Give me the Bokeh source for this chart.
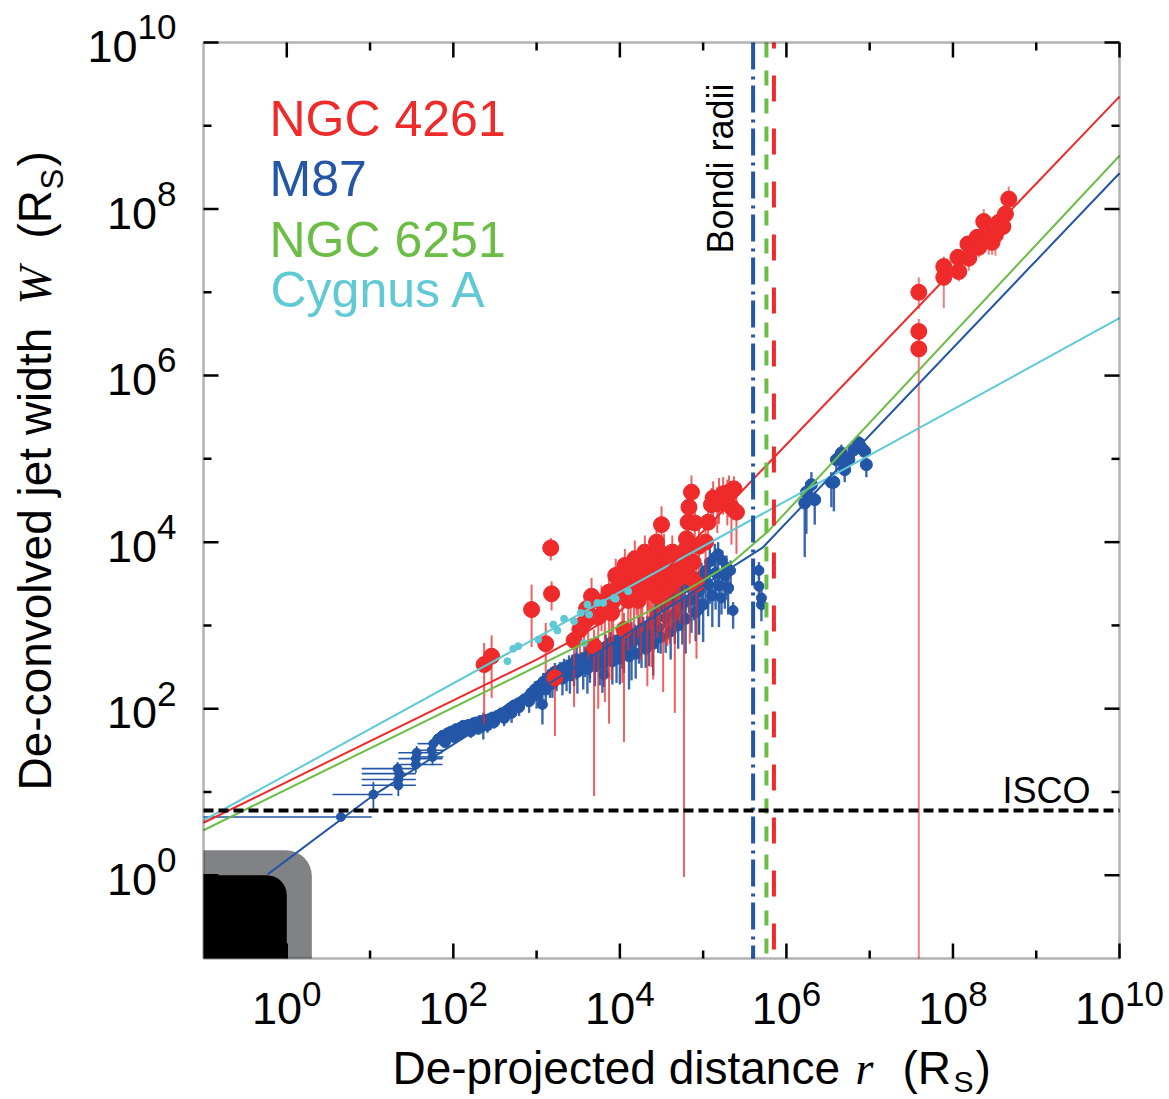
import numpy as np
from bokeh.plotting import figure
from bokeh.models import Label, BoxAnnotation
from bokeh.embed import file_html
from bokeh.resources import INLINE

RED = "#EE2A2A"
BLUE = "#2356A6"
GREEN = "#6CBD45"
CYAN = "#5FC9D6"
GRAY = "#808285"
SANS = "Liberation Sans"
SERIF = "Liberation Serif"

# ---------------- data (log10 of R_S units) ----------------
# M87: isolated inner points (with horizontal error bars)
m87_iso_logr = [0.65, 1.04, 1.34, 1.34, 1.35, 1.33, 1.55, 1.55, 1.56, 1.75, 1.74, 1.76]
m87_iso_logw = [0.70, 0.97, 1.08, 1.15, 1.22, 1.28, 1.33, 1.40, 1.47, 1.42, 1.50, 1.58]
m87_iso_xlo = [-1.00, 0.55, 0.90, 0.90, 0.90, 0.90, 1.34, 1.34, 1.34, 1.57, 1.57, 1.57]
m87_iso_xhi = [1.02, 1.27, 1.55, 1.55, 1.55, 1.55, 1.87, 1.87, 1.87, 1.88, 1.88, 1.88]
m87_iso_dn = [0.04, 0.21, 0.13, 0.10, 0.10, 0.08, 0.10, 0.10, 0.08, 0.10, 0.10, 0.08]
m87_iso_up = [0.04, 0.15, 0.08, 0.08, 0.08, 0.08, 0.08, 0.08, 0.08, 0.08, 0.08, 0.08]

# M87: dense band, upper part
m87_up_logr = [1.82, 1.87, 1.93, 1.97, 2.03, 2.09, 2.12, 2.18, 2.24, 2.27,
               2.33, 2.39, 2.43, 2.47, 2.53, 2.58, 2.64, 2.68, 2.72, 2.78,
               2.83, 2.89, 2.93, 2.98, 3.03, 3.08, 3.14, 3.18, 3.22, 3.28,
               3.33, 3.39, 3.43, 3.48, 3.53, 3.58, 3.64, 3.68, 3.73, 3.78,
               3.83, 3.89, 3.93, 3.98, 4.03, 4.08, 4.14, 4.18, 4.23, 4.28,
               4.33, 4.39, 4.43, 4.48, 4.53, 4.58, 4.64, 4.68, 4.73, 4.78,
               4.83, 4.89, 4.93, 4.98, 5.03, 5.08, 5.14, 5.18, 5.23, 5.28,
               5.33]
m87_up_logw = [1.64, 1.68, 1.71, 1.73, 1.76, 1.78, 1.80, 1.81, 1.83, 1.84,
               1.86, 1.87, 1.88, 1.90, 1.92, 1.95, 1.98, 2.01, 2.04, 2.07,
               2.10, 2.14, 2.19, 2.24, 2.28, 2.33, 2.38, 2.42, 2.45, 2.47,
               2.50, 2.52, 2.55, 2.60, 2.58, 2.62, 2.67, 2.69, 2.72, 2.70,
               2.75, 2.80, 2.79, 2.83, 2.86, 2.88, 2.90, 2.89, 2.94, 2.98,
               3.00, 3.06, 3.14, 3.22, 3.25, 3.28, 3.31, 3.38, 3.42, 3.45,
               3.50, 3.54, 3.52, 3.60, 3.66, 3.76, 3.82, 3.86, 3.78, 3.70,
               3.66]
m87_up_dn = [0.05, 0.06, 0.05, 0.07, 0.06, 0.05, 0.06, 0.07, 0.05, 0.06,
             0.06, 0.08, 0.07, 0.06, 0.08, 0.07, 0.09, 0.08, 0.10, 0.09,
             0.10, 0.12, 0.11, 0.14, 0.12, 0.15, 0.13, 0.16, 0.18, 0.14,
             0.20, 0.17, 0.22, 0.25, 0.18, 0.24, 0.30, 0.22, 0.28, 0.20,
             0.35, 0.26, 0.22, 0.30, 0.38, 0.25, 0.32, 0.28, 0.40, 0.30,
             0.26, 0.35, 0.42, 0.30, 0.28, 0.45, 0.32, 0.38, 0.30, 0.42,
             0.35, 0.48, 0.30, 0.40, 0.36, 0.50, 0.42, 0.38, 0.30, 0.35,
             0.28]
m87_up_up = [0.04, 0.05, 0.04, 0.05, 0.05, 0.04, 0.05, 0.06, 0.05, 0.05,
             0.05, 0.06, 0.05, 0.06, 0.06, 0.05, 0.07, 0.06, 0.07, 0.06,
             0.08, 0.07, 0.08, 0.09, 0.08, 0.10, 0.09, 0.08, 0.10, 0.09,
             0.10, 0.12, 0.10, 0.14, 0.10, 0.12, 0.15, 0.11, 0.13, 0.10,
             0.14, 0.12, 0.10, 0.13, 0.15, 0.11, 0.14, 0.12, 0.16, 0.12,
             0.11, 0.14, 0.16, 0.12, 0.12, 0.18, 0.13, 0.15, 0.12, 0.16,
             0.14, 0.18, 0.12, 0.15, 0.14, 0.20, 0.16, 0.14, 0.12, 0.14,
             0.12]

# M87: dense band, lower part
m87_lo_logr = [1.90, 2.01, 2.09, 2.21, 2.30, 2.41, 2.49, 2.61, 2.70, 2.79,
               2.91, 3.00, 3.11, 3.19, 3.31, 3.40, 3.49, 3.61, 3.70, 3.79,
               3.91, 4.00, 4.11, 4.19, 4.31, 4.40, 4.49, 4.61, 4.70, 4.79,
               4.91, 5.00, 5.11, 5.19, 5.30]
m87_lo_logw = [1.60, 1.66, 1.70, 1.73, 1.76, 1.80, 1.84, 1.89, 1.95, 2.02,
               2.09, 2.16, 2.23, 2.30, 2.36, 2.40, 2.44, 2.48, 2.51, 2.54,
               2.57, 2.61, 2.63, 2.66, 2.72, 2.78, 2.86, 2.93, 3.00, 3.08,
               3.16, 3.25, 3.36, 3.48, 3.45]
m87_lo_dn = [0.06, 0.07, 0.06, 0.08, 0.07, 0.09, 0.08, 0.10, 0.12, 0.11,
             0.14, 0.16, 0.18, 0.17, 0.20, 0.22, 0.26, 0.30, 0.24, 0.35,
             0.28, 0.32, 0.40, 0.30, 0.23, 0.38, 0.20, 0.34, 0.28, 0.42,
             0.35, 0.45, 0.38, 0.50, 0.32]
m87_lo_up = [0.05, 0.06, 0.05, 0.06, 0.06, 0.07, 0.06, 0.08, 0.07, 0.08,
             0.09, 0.10, 0.09, 0.11, 0.10, 0.12, 0.11, 0.13, 0.12, 0.14,
             0.12, 0.14, 0.13, 0.15, 0.12, 0.16, 0.14, 0.15, 0.13, 0.17,
             0.15, 0.18, 0.16, 0.18, 0.15]

# M87: dense band, middle part
m87_mid_logr = [3.05, 3.16, 3.24, 3.36, 3.45, 3.56, 3.64, 3.76, 3.85, 3.96,
                4.05, 4.14, 4.26, 4.35, 4.46, 4.55, 4.66, 4.75, 4.86, 4.95,
                5.06, 5.15, 5.26]
m87_mid_logw = [2.23, 2.33, 2.39, 2.46, 2.49, 2.53, 2.57, 2.63, 2.65, 2.71,
                2.73, 2.79, 2.81, 2.89, 2.97, 3.09, 3.14, 3.25, 3.31, 3.41,
                3.49, 3.63, 3.60]
m87_mid_dn = [0.15, 0.20, 0.18, 0.25, 0.22, 0.30, 0.26, 0.35, 0.28, 0.40,
              0.30, 0.45, 0.32, 0.38, 0.30, 0.42, 0.36, 0.48, 0.40, 0.52,
              0.38, 0.44, 0.40]
m87_mid_up = [0.10, 0.12, 0.11, 0.13, 0.12, 0.14, 0.13, 0.15, 0.13, 0.16,
              0.14, 0.15, 0.14, 0.16, 0.15, 0.17, 0.15, 0.18, 0.16, 0.18,
              0.16, 0.18, 0.16]

# M87: scattered points
m87_out_logr = [2.36, 3.07, 3.81, 4.95, 5.22, 5.36, 5.67, 5.67, 5.70, 5.70]
m87_out_logw = [1.79, 2.05, 2.41, 3.19, 3.33, 3.18, 3.66, 3.47, 3.33, 3.25]
m87_out_dn = [0.16, 0.24, 0.15, 0.30, 0.20, 0.22, 0.10, 0.12, 0.15, 0.20]
m87_out_up = [0.16, 0.18, 0.12, 0.12, 0.12, 0.10, 0.10, 0.10, 0.10, 0.10]

# M87: outer points beyond the Bondi radius
m87_far_logr = [6.22, 6.24, 6.30, 6.34, 6.54, 6.57, 6.60, 6.64, 6.66, 6.70, 6.75, 6.81, 6.87, 6.90, 6.94, 6.96]
m87_far_logw = [4.47, 4.60, 4.69, 4.51, 4.72, 4.72, 4.99, 5.02, 5.07, 4.87, 4.99, 5.11, 5.19, 5.13, 5.09, 4.93]
m87_far_dn = [0.65, 0.50, 0.20, 0.30, 0.30, 0.35, 0.15, 0.12, 0.10, 0.15, 0.12, 0.10, 0.10, 0.10, 0.12, 0.15]
m87_far_up = [0.10, 0.12, 0.15, 0.10, 0.12, 0.10, 0.10, 0.12, 0.10, 0.10, 0.10, 0.10, 0.08, 0.10, 0.10, 0.08]

# NGC 4261: inner cluster
n4261_logr = [2.37, 2.46, 2.94, 3.11, 3.17, 3.18, 3.22, 3.45, 3.52, 3.57,
              3.60, 3.66, 3.69, 3.74, 3.78, 3.82, 3.87, 3.92, 3.98, 4.03,
              4.05, 4.08, 4.11, 4.13, 4.17, 4.20, 4.24, 4.27, 4.31, 4.33,
              4.37, 4.40, 4.44, 4.46, 4.50, 4.52, 4.55, 4.58, 4.62, 4.66,
              4.70, 4.73, 4.77, 4.80, 4.82, 4.83, 4.86, 4.90, 4.95, 5.03,
              5.06, 5.10, 5.12, 5.17, 5.19, 5.24, 5.29, 5.34, 5.37, 5.40,
              5.31, 4.15, 4.28, 4.36, 4.48, 4.60, 4.68, 4.45, 4.22]
n4261_logw = [2.53, 2.63, 3.19, 2.78, 3.93, 3.38, 2.37, 2.82, 2.95, 3.03,
              3.20, 3.35, 2.75, 3.10, 3.28, 3.18, 3.40, 3.30, 3.47, 3.38,
              2.95, 3.55, 3.62, 3.45, 3.35, 3.52, 3.58, 3.42, 3.75, 3.55,
              3.80, 3.62, 4.00, 3.90, 4.21, 3.70, 3.58, 3.72, 3.66, 3.78,
              3.70, 3.85, 3.72, 4.04, 4.24, 4.42, 4.60, 4.23, 3.95, 4.00,
              4.24, 4.45, 4.53, 4.46, 4.52, 4.58, 4.55, 4.42, 4.64, 4.36,
              4.60, 3.70, 3.65, 3.45, 3.52, 3.48, 3.55, 3.35, 3.30]
n4261_dn = [0.73, 0.50, 0.45, 0.35, 0.15, 0.20, 0.70, 0.80, 0.30, 0.35,
            0.30, 0.30, 1.80, 1.10, 0.35, 1.10, 1.58, 0.50, 0.35, 1.07,
            1.35, 0.30, 0.35, 0.50, 0.60, 0.40, 0.30, 0.50, 0.30, 1.28,
            0.25, 1.27, 0.25, 0.30, 0.25, 1.50, 0.80, 0.50, 0.70, 1.83,
            0.60, 0.35, 3.74, 0.30, 0.30, 0.25, 0.20, 0.35, 0.45, 0.45,
            0.30, 0.30, 0.25, 0.35, 0.30, 0.25, 0.35, 0.45, 0.25, 0.50,
            0.30, 0.30, 0.40, 0.50, 0.60, 0.70, 0.50, 0.50, 0.45]
n4261_up = [0.26, 0.25, 0.30, 0.25, 0.12, 0.15, 0.15, 0.25, 0.20, 0.20,
            0.20, 0.22, 0.20, 0.20, 0.20, 0.20, 0.18, 0.20, 0.20, 0.20,
            0.20, 0.20, 0.20, 0.20, 0.25, 0.20, 0.25, 0.20, 0.20, 0.20,
            0.20, 0.25, 0.22, 0.20, 0.22, 0.20, 0.20, 0.20, 0.20, 0.20,
            0.25, 0.20, 0.20, 0.20, 0.20, 0.20, 0.20, 0.20, 0.20, 0.20,
            0.25, 0.20, 0.20, 0.20, 0.25, 0.20, 0.20, 0.20, 0.15, 0.20,
            0.20, 0.20, 0.20, 0.20, 0.20, 0.20, 0.20, 0.20, 0.20]

# NGC 4261: more points of the dense inner clump
n4261_b_logr = [4.06, 4.10, 4.18, 4.25, 4.30, 4.34, 4.38, 4.42, 4.47, 4.53,
                4.57, 4.63, 4.72, 4.78, 4.84, 4.88, 4.92, 3.95, 3.90, 3.62]
n4261_b_logw = [3.72, 3.30, 3.80, 3.38, 3.88, 3.68, 3.40, 3.75, 3.60, 3.85,
                3.45, 3.88, 3.62, 3.90, 3.58, 3.76, 3.50, 3.60, 3.15, 3.08]
n4261_b_dn = [0.35, 0.60, 0.30, 0.80, 0.30, 0.50, 0.90, 0.40, 0.60, 0.30,
              0.70, 0.35, 0.60, 0.30, 0.80, 0.40, 0.90, 0.40, 0.80, 0.50]
n4261_b_up = [0.20, 0.20, 0.22, 0.20, 0.20, 0.20, 0.22, 0.20, 0.20, 0.25,
              0.20, 0.20, 0.20, 0.22, 0.20, 0.20, 0.20, 0.20, 0.20, 0.20]

# NGC 4261: outer cluster
n4261_far_logr = [7.59, 7.59, 7.59, 7.89, 7.89, 8.06, 8.07, 8.18, 8.19, 8.29,
                  8.31, 8.37, 8.43, 8.51, 8.55, 8.60, 8.63, 8.67, 8.47, 8.40]
n4261_far_logw = [7.00, 6.53, 6.32, 7.31, 7.18, 7.42, 7.25, 7.58, 7.41, 7.66,
                  7.54, 7.85, 7.65, 7.69, 7.84, 7.79, 7.94, 8.12, 7.60, 7.72]
n4261_far_dn = [0.20, 0.15, 9.00, 0.12, 0.37, 0.10, 0.12, 0.10, 0.15, 0.10,
                0.12, 0.15, 0.20, 0.25, 0.10, 0.10, 0.12, 0.10, 0.15, 0.12]
n4261_far_up = [0.18, 0.15, 0.15, 0.12, 0.10, 0.10, 0.10, 0.10, 0.10, 0.10,
                0.10, 0.15, 0.10, 0.10, 0.10, 0.10, 0.10, 0.15, 0.10, 0.10]

# Cygnus A
cyg_logr = [2.65, 2.72, 2.78, 3.02, 3.20, 3.25, 3.33, 3.45, 3.53, 3.61, 3.57, 3.73, 3.80, 3.95, 4.10, 3.63, 3.93]
cyg_logw = [2.57, 2.72, 2.75, 2.83, 3.01, 2.94, 3.08, 3.05, 3.15, 3.25, 2.79, 3.27, 3.27, 3.32, 3.41, 3.13, 3.33]

# fitted profiles (vertices)
fit_cyg_logr = [-1.0, 10.0]
fit_cyg_logw = [0.66, 6.69]
fit_n4261_logr = [-1.0, 3.0, 3.5, 4.0, 4.5, 5.0, 5.5, 10.0]
fit_n4261_logw = [0.63, 2.59, 2.86, 3.17, 3.61, 4.13, 4.65, 9.35]
fit_n6251_logr = [-1.0, 4.37, 5.0, 5.34, 5.78, 10.0]
fit_n6251_logw = [0.54, 3.18, 3.54, 3.75, 4.13, 8.64]
fit_m87_logr = [-0.23, 1.04, 5.71, 10.0]
fit_m87_logw = [0.01, 0.96, 3.93, 8.43]

# Bondi radii (log10 R_S)
bondi_m87 = 5.60
bondi_n6251 = 5.76
bondi_n4261 = 5.85
isco_w = 6.0          # R_S
bh_size = 1.0         # R_S (black region)
ergo_size = 2.0       # R_S (gray region)

# axes: log10 limits and decade ticks
axis_min_exp, axis_max_exp = -1, 10
tick_exp_major = [0, 2, 4, 6, 8, 10]
tick_exp_minor = [1, 3, 5, 7, 9]


def P(a):
    return 10.0 ** np.asarray(a, dtype=float)


# ---------------- layout ----------------
W, H = 1169, 1099
FL, FR, FT, FB = 203, 1119, 42, 958          # plotting box in page pixels
DPP = (axis_max_exp - axis_min_exp) / (FR - FL)   # decades per pixel
xr = (10 ** (axis_min_exp - FL * DPP), 10 ** (axis_max_exp + (W - FR) * DPP))
yr = (10 ** (axis_min_exp - (H - FB) * DPP), 10 ** (axis_max_exp + FT * DPP))

p = figure(width=W, height=H, x_axis_type="log", y_axis_type="log",
           x_range=xr, y_range=yr, output_backend="svg", toolbar_location=None,
           x_axis_location=None, y_axis_location=None,
           min_border=0, min_border_left=0, min_border_right=0, min_border_top=0, min_border_bottom=0,
           background_fill_color="white", border_fill_color="white", outline_line_color=None)
p.grid.visible = False

lo_v, hi_v = 10.0 ** axis_min_exp, 10.0 ** axis_max_exp

# black hole / gray region
p.add_layout(BoxAnnotation(left=lo_v, bottom=lo_v, right=ergo_size, top=ergo_size,
                           fill_color=GRAY, fill_alpha=1.0, line_color=None, level="underlay",
                           border_radius=dict(top_left=0, top_right=26, bottom_right=0, bottom_left=0)))
p.add_layout(BoxAnnotation(left=lo_v, bottom=lo_v, right=bh_size, top=bh_size,
                           fill_color="black", fill_alpha=1.0, line_color=None, level="underlay",
                           border_radius=dict(top_left=0, top_right=20, bottom_right=0, bottom_left=0)))


def errbars(logr, logw, dn, up, color, alpha, width=2):
    r = P(logr)
    lw = np.asarray(logw, dtype=float)
    lo = np.maximum(lw - np.asarray(dn), axis_min_exp)
    hi = np.minimum(lw + np.asarray(up), axis_max_exp)
    p.segment(x0=r, y0=P(lo), x1=r, y1=P(hi), line_color=color, line_alpha=alpha, line_width=width)


# M87
p.segment(x0=P(m87_iso_xlo), y0=P(m87_iso_logw), x1=P(m87_iso_xhi), y1=P(m87_iso_logw),
          line_color=BLUE, line_width=1.6)
errbars(m87_iso_logr, m87_iso_logw, m87_iso_dn, m87_iso_up, BLUE, 1.0, 1.8)
for lr, lw_, d, u in [(m87_lo_logr, m87_lo_logw, m87_lo_dn, m87_lo_up),
                      (m87_mid_logr, m87_mid_logw, m87_mid_dn, m87_mid_up),
                      (m87_up_logr, m87_up_logw, m87_up_dn, m87_up_up),
                      (m87_out_logr, m87_out_logw, m87_out_dn, m87_out_up),
                      (m87_far_logr, m87_far_logw, m87_far_dn, m87_far_up)]:
    errbars(lr, lw_, d, u, BLUE, 0.9, 2.4)
p.scatter(P(m87_iso_logr), P(m87_iso_logw), size=9, color=BLUE)
p.scatter(P(m87_lo_logr), P(m87_lo_logw), size=11, color=BLUE)
p.scatter(P(m87_mid_logr), P(m87_mid_logw), size=11, color=BLUE)
p.scatter(P(m87_up_logr), P(m87_up_logw), size=10, color=BLUE)
p.scatter(P(m87_out_logr), P(m87_out_logw), size=10, color=BLUE)
p.scatter(P(m87_far_logr), P(m87_far_logw), size=12, color=BLUE)

# NGC 4261
errbars(n4261_logr, n4261_logw, n4261_dn, n4261_up, RED, 0.75, 2)
errbars(n4261_b_logr, n4261_b_logw, n4261_b_dn, n4261_b_up, RED, 0.75, 2)
errbars(n4261_far_logr, n4261_far_logw, n4261_far_dn, n4261_far_up, RED, 0.6, 2)
p.scatter(P(n4261_b_logr), P(n4261_b_logw), size=16, color=RED)
p.scatter(P(n4261_logr), P(n4261_logw), size=16, color=RED)
p.scatter(P(n4261_far_logr), P(n4261_far_logw), size=16, color=RED)

# Cygnus A
p.scatter(P(cyg_logr), P(cyg_logw), size=7, color=CYAN)

# fits
p.line(P(fit_cyg_logr), P(fit_cyg_logw), line_color=CYAN, line_width=2)
p.line(P(fit_m87_logr), P(fit_m87_logw), line_color=BLUE, line_width=2)
p.line(P(fit_n6251_logr), P(fit_n6251_logw), line_color=GREEN, line_width=2)
p.line(P(fit_n4261_logr), P(fit_n4261_logw), line_color=RED, line_width=2)

# Bondi radii and ISCO
p.segment(x0=[10 ** bondi_m87], y0=[hi_v], x1=[10 ** bondi_m87], y1=[lo_v],
          line_color=BLUE, line_width=4, line_dash="27 7 3 6")
p.segment(x0=[10 ** bondi_n6251], y0=[hi_v], x1=[10 ** bondi_n6251], y1=[lo_v],
          line_color=GREEN, line_width=4, line_dash="15 13")
p.segment(x0=[10 ** bondi_n4261], y0=[hi_v], x1=[10 ** bondi_n4261], y1=[lo_v],
          line_color=RED, line_width=4, line_dash="6 27 20 0")
p.segment(x0=[lo_v], y0=[isco_w], x1=[hi_v], y1=[isco_w],
          line_color="black", line_width=4, line_dash="10 5")

# ---------------- frame and ticks ----------------
p.add_layout(BoxAnnotation(left=lo_v, right=hi_v, bottom=lo_v, top=hi_v, fill_color=None,
                           fill_alpha=0, line_color="black", line_width=2.5, level="overlay"))
MAJ, MIN = 15 * DPP, 8 * DPP
tx, ty0, ty1 = [], [], []
for k in tick_exp_major + tick_exp_minor:
    L = MAJ if k in tick_exp_major else MIN
    tx += [10.0 ** k, 10.0 ** k]
    ty0 += [lo_v, hi_v]
    ty1 += [10 ** (axis_min_exp + L), 10 ** (axis_max_exp - L)]
p.segment(x0=tx, y0=ty0, x1=tx, y1=ty1, line_color="black", line_width=2.5)
p.segment(x0=ty0, y0=tx, x1=ty1, y1=tx, line_color="black", line_width=2.5)

# ---------------- texts ----------------
BASE_SHIFT = 0.375   # em; correction between requested and drawn baseline


def txt(text, px, py, size, color="black", font=SANS, style="normal", align="left", rot=False):
    if rot:
        px = px - BASE_SHIFT * size
    else:
        py = py - BASE_SHIFT * size
    p.add_layout(Label(x=px, y=H - py, x_units="screen", y_units="screen", text=text,
                       text_font=font, text_font_size=f"{size}px", text_font_style=style,
                       text_color=color, text_align=align, text_baseline="alphabetic",
                       angle=(np.pi / 2 if rot else 0.0)))


DEC = 1.0 / DPP
MAIN_FS, EXP_FS = 45, 35
for k in tick_exp_major:
    e = str(k)
    w_main = 2 * 0.556 * MAIN_FS
    w_exp = len(e) * 0.556 * EXP_FS
    # x axis
    xt = FL + (k - axis_min_exp) * DEC
    left = xt - (w_main + w_exp) / 2
    txt("10", left, 1025, MAIN_FS)
    txt(e, left + w_main, 1007, EXP_FS)
    # y axis
    yt = FB - (k - axis_min_exp) * DEC
    txt(e, 176, yt - 2, EXP_FS, align="right")
    txt("10", 176 - w_exp, yt + 21, MAIN_FS, align="right")

# axis titles
txt("De-projected distance", 392, 1085, 46)
txt("r", 855, 1085, 46, font=SERIF, style="italic")
txt("(R", 902, 1085, 46)
txt("S", 953, 1092, 30)
txt(")", 975, 1085, 46)

txt("De-convolved jet width", 52, 790, 46, rot=True)
txt("W", 52, 304, 46, font=SERIF, style="italic", rot=True)
txt("(R", 52, 238, 46, rot=True)
txt("S", 64, 189, 31, rot=True)
txt(")", 52, 166, 46, rot=True)

# legend
txt("NGC 4261", 269, 137, 50, color=RED)
txt("M87", 269, 197, 50, color=BLUE)
txt("NGC 6251", 269, 258, 50, color=GREEN)
txt("Cygnus A", 270, 308, 50, color=CYAN)

# annotations
txt("Bondi radii", 733, 253, 36, rot=True)
txt("ISCO", 1002, 803, 36)

open("out.html", "w").write(file_html(p, INLINE))
